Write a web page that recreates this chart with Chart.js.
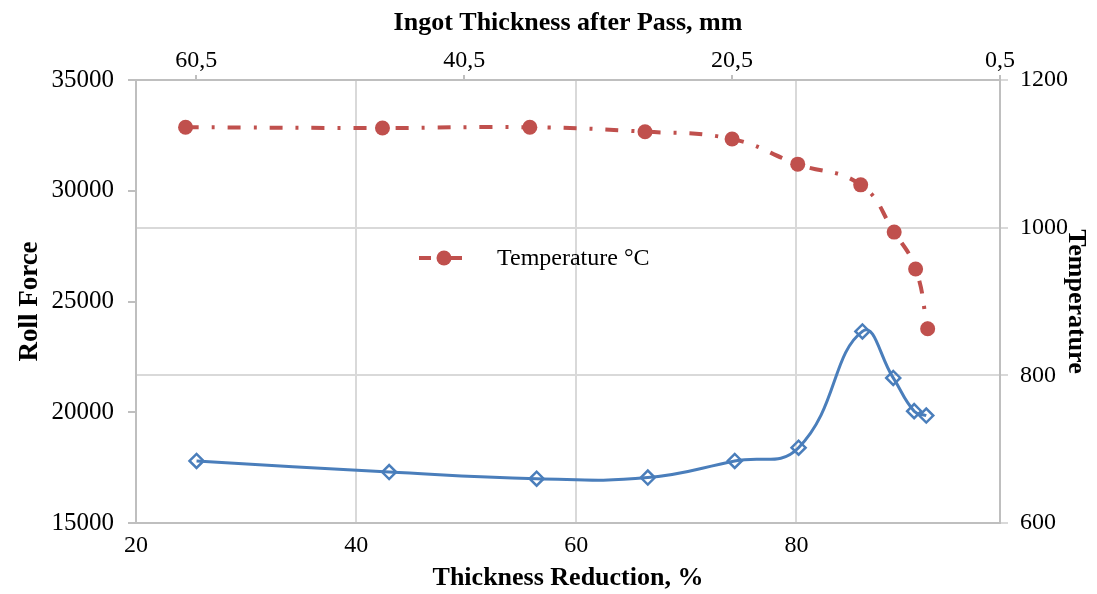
<!DOCTYPE html>
<html>
<head>
<meta charset="utf-8">
<script src="https://cdn.jsdelivr.net/npm/chart.js@4"></script>
<style>
  html, body { margin: 0; padding: 0; background: #fff; }
  #wrap { width: 1097px; height: 594px; position: relative; }
</style>
</head>
<body>
<div id="wrap"><canvas id="grafico" width="1097" height="594"></canvas></div>
<script>
// Roll force vs thickness reduction (bottom / left axes)
const reducao = [25.5, 43.0, 56.4, 66.5, 74.4, 80.2, 86.0, 88.8, 90.7, 91.8];
const forca = [17800, 17300, 17000, 17050, 17800, 18400, 23650, 21550, 20050, 19850];

// Temperature vs ingot thickness after pass (top / right axes)
const espessura = [61.3, 46.6, 35.6, 27.0, 20.5, 15.6, 10.9, 8.4, 6.8, 5.9];
const temperatura = [1136, 1135, 1136, 1130, 1120, 1086, 1058, 994, 944, 863];

// tick labels
const ticksBaixo = [20, 40, 60, 80];
const ticksTopo = [0.5, 20.5, 40.5, 60.5];
const ticksEsq = [15000, 20000, 25000, 30000, 35000];
const ticksDir = [600, 800, 1000, 1200];

const fonte = 'Liberation Serif';
const cinzaEixo = '#bfbfbf';
const cinzaGrade = '#d9d9d9';
const azul = '#4a7ebb';
const vermelho = '#c0504d';

const fixarTicks = lista => axis => { axis.ticks = lista.map(v => ({ value: v })); };
const virgula = v => String(v).replace('.', ',');
const simples = v => String(v);

// legend drawn inside the plot area, like in the original
const legendaInterna = {
    id: 'legendaInterna',
    afterDraw(chart) {
        const ctx = chart.ctx;
        const a = chart.chartArea;
        const x0 = a.left + 283, y0 = a.top + 178;
        ctx.save();
        ctx.strokeStyle = vermelho;
        ctx.lineWidth = 4;
        ctx.beginPath();
        ctx.moveTo(x0, y0); ctx.lineTo(x0 + 12, y0);
        ctx.moveTo(x0 + 26, y0); ctx.lineTo(x0 + 43, y0);
        ctx.stroke();
        ctx.fillStyle = vermelho;
        ctx.beginPath();
        ctx.arc(x0 + 25, y0, 7.5, 0, Math.PI * 2);
        ctx.fill();
        ctx.fillStyle = '#000';
        ctx.font = '24px "' + fonte + '"';
        ctx.textBaseline = 'middle';
        ctx.fillText('Temperature °C', x0 + 78, y0 + 1);
        ctx.restore();
    }
};

const ctx = document.getElementById('grafico').getContext('2d');
new Chart(ctx, {
    type: 'line',
    data: {
        datasets: [{
            label: 'Roll Force',
            data: reducao.map((x, i) => ({ x: x, y: forca[i] })),
            xAxisID: 'x',
            yAxisID: 'y',
            borderColor: azul,
            borderWidth: 3,
            tension: 0.45,
            pointStyle: 'rectRot',
            pointRadius: 7,
            pointBorderWidth: 2.5,
            pointBorderColor: azul,
            pointBackgroundColor: 'rgba(255,255,255,0)',
            fill: false
        }, {
            label: 'Temperature °C',
            data: espessura.map((x, i) => ({ x: x, y: temperatura[i] })),
            xAxisID: 'x2',
            yAxisID: 'y2',
            borderColor: vermelho,
            borderWidth: 4,
            borderDash: [13, 13, 3, 13],
            tension: 0.45,
            pointStyle: 'circle',
            pointRadius: 7.5,
            pointBorderWidth: 0,
            pointBackgroundColor: vermelho,
            fill: false
        }]
    },
    options: {
        responsive: false,
        animation: false,
        layout: { padding: 0 },
        plugins: { legend: { display: false }, tooltip: { enabled: false } },
        scales: {
            x: {
                type: 'linear', position: 'bottom', min: 20, max: 98.5,
                afterBuildTicks: fixarTicks(ticksBaixo),
                afterFit: s => { s.height = 71; },
                border: { display: true, color: cinzaEixo, width: 2 },
                grid: { color: cinzaGrade, lineWidth: 2, drawTicks: false },
                ticks: { color: '#000', padding: 8, font: { family: fonte, size: 24 }, callback: simples },
                title: { display: true, text: 'Thickness Reduction, %', color: '#000',
                         padding: { top: 0, bottom: 0 }, font: { family: fonte, size: 26, weight: 'bold' } }
            },
            x2: {
                type: 'linear', position: 'top', min: 0.5, max: 65, reverse: true,
                afterBuildTicks: fixarTicks(ticksTopo),
                afterFit: s => { s.height = 80; },
                border: { display: true, color: cinzaEixo, width: 2 },
                grid: { drawOnChartArea: false, color: cinzaEixo, lineWidth: 2, tickLength: 5 },
                ticks: { color: '#000', padding: 0, font: { family: fonte, size: 24 }, callback: virgula },
                title: { display: true, text: 'Ingot Thickness after Pass, mm', color: '#000',
                         padding: { top: 8, bottom: 0 }, font: { family: fonte, size: 26, weight: 'bold' } }
            },
            y: {
                type: 'linear', position: 'left', min: 15000, max: 35000,
                afterBuildTicks: fixarTicks(ticksEsq),
                afterFit: s => { s.width = 136; },
                border: { display: true, color: cinzaEixo, width: 2 },
                grid: { drawOnChartArea: false, color: cinzaEixo, lineWidth: 2, tickLength: 8 },
                ticks: { color: '#000', padding: 14, font: { family: fonte, size: 25 }, callback: simples },
                title: { display: true, text: 'Roll Force', color: '#000',
                         padding: { top: 14, bottom: 0 }, font: { family: fonte, size: 27, weight: 'bold' } }
            },
            y2: {
                type: 'linear', position: 'right', min: 600, max: 1200,
                afterBuildTicks: fixarTicks(ticksDir),
                afterFit: s => { s.width = 97; },
                border: { display: true, color: cinzaEixo, width: 2 },
                grid: { drawOnChartArea: true, color: cinzaGrade, lineWidth: 2, tickLength: 8 },
                ticks: { color: '#000', padding: 12, font: { family: fonte, size: 24 }, callback: simples },
                title: { display: true, text: 'Temperature', color: '#000',
                         padding: { top: 6, bottom: 0 }, font: { family: fonte, size: 26, weight: 'bold' } }
            }
        }
    },
    plugins: [legendaInterna]
});
</script>
</body>
</html>
